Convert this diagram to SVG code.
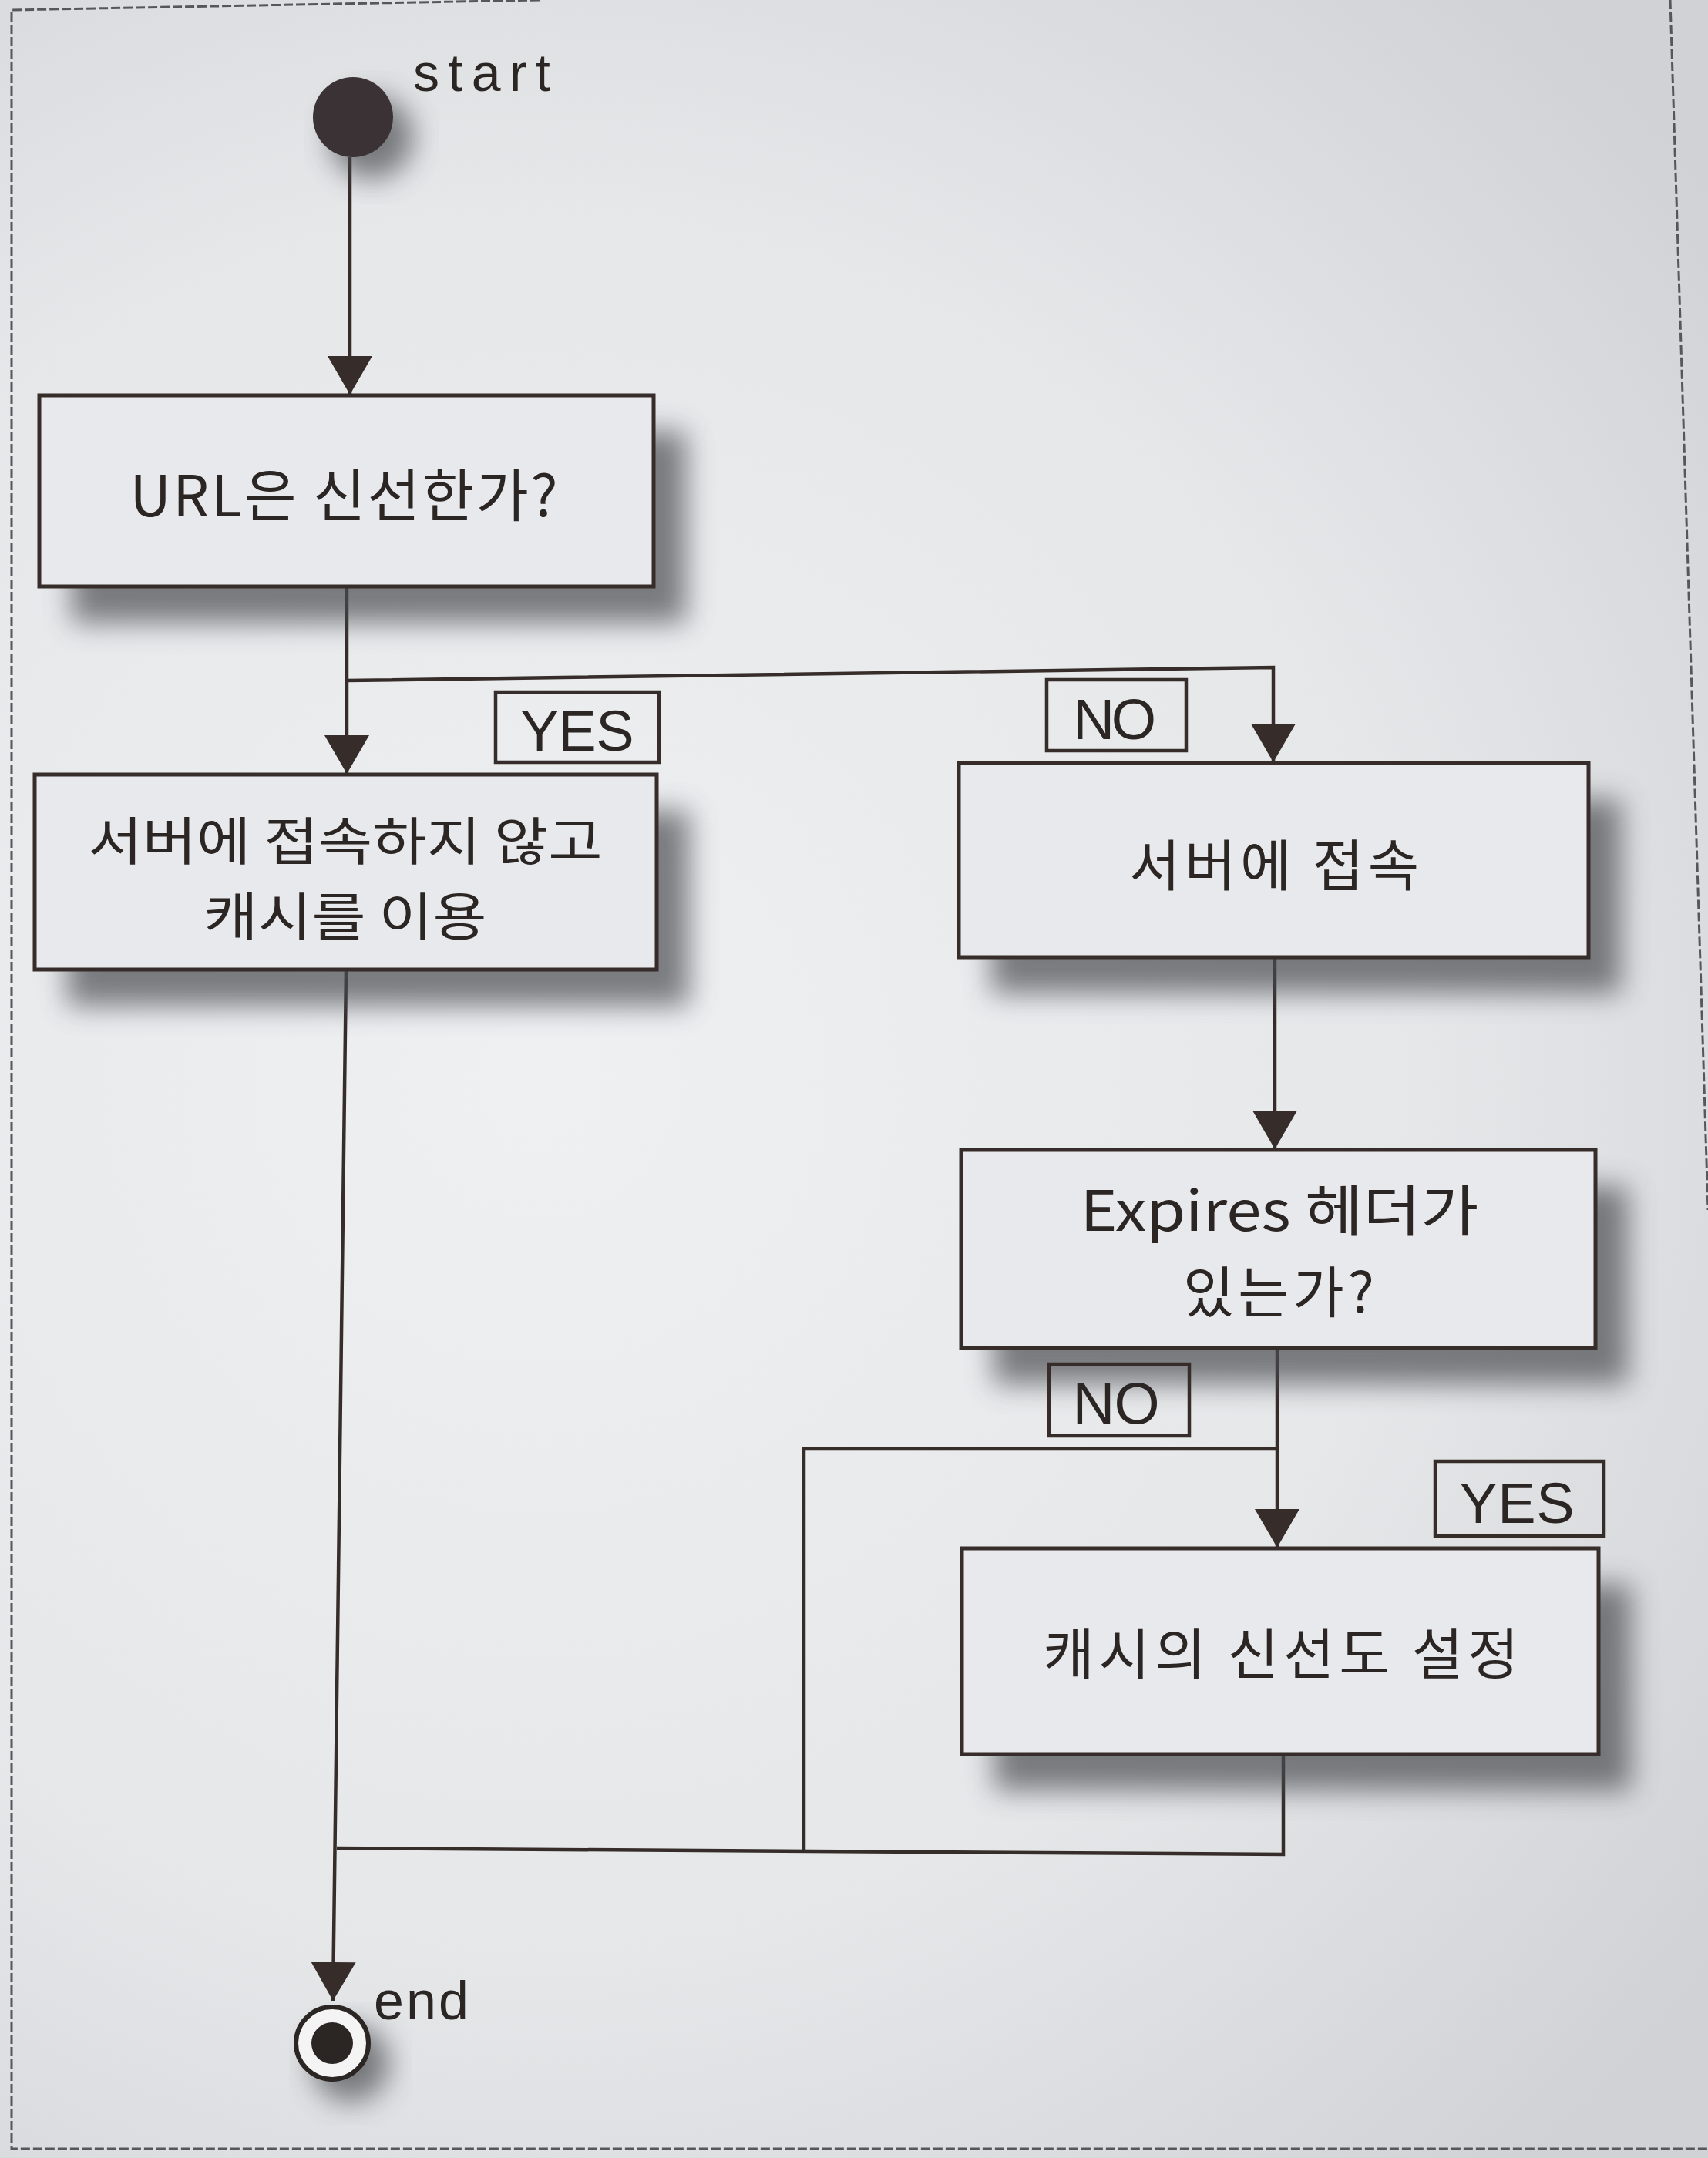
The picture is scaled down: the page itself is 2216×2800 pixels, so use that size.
<svg xmlns="http://www.w3.org/2000/svg" width="2216" height="2800" viewBox="0 0 2216 2800">
<defs>
<radialGradient id="bg" gradientUnits="userSpaceOnUse" cx="700" cy="1400" r="1900">
<stop offset="0" stop-color="#eef0f2"/>
<stop offset="0.6" stop-color="#e5e7e9"/>
<stop offset="1" stop-color="#d0d2d5"/>
</radialGradient>
<filter id="blur" x="-30%" y="-30%" width="160%" height="160%">
<feGaussianBlur stdDeviation="18"/>
</filter>
<marker id="ah" viewBox="0 0 50 58" refX="50" refY="29" markerWidth="50" markerHeight="58" markerUnits="userSpaceOnUse" orient="auto">
<path d="M0,0 L50,29 L0,58 z" fill="#362c2a"/>
</marker>
</defs>
<style>
.box{fill:#e8e9ec;stroke:#362c2a;stroke-width:5}
.shadow{fill:#4a4b50;opacity:0.7;filter:url(#blur)}
.lbl{fill:none;stroke:#362c2a;stroke-width:4.5}
.con{fill:none;stroke:#362c2a;stroke-width:4.5}
.kr{font-family:"Noto Sans CJK KR","Noto Sans",sans-serif;fill:#2b2523;text-anchor:middle}
.lat{font-family:"Liberation Sans",Arial,sans-serif;fill:#2b2523}
.border{fill:none;stroke:#55575b;stroke-width:3;stroke-dasharray:12 4}
</style>

<rect x="0" y="0" width="2216" height="2800" fill="url(#bg)"/>
<path class="border" d="M2167,0 L2216,1570"/>
<path class="border" d="M700,0 L15,13 L15,2788 L2216,2788"/>

<g id="connectors">
<path class="con" d="M454,204 L454,512" marker-end="url(#ah)"/>
<path class="con" d="M450,761 L450,1004" marker-end="url(#ah)"/>
<path class="con" d="M450,883 L1652,866 L1652,989" marker-end="url(#ah)"/>
<path class="con" d="M1654,1242 L1654,1491" marker-end="url(#ah)"/>
<path class="con" d="M1657,1749 L1657,2008" marker-end="url(#ah)"/>
<path class="con" d="M1657,1880 L1043,1880 L1043,2402"/>
<path class="con" d="M1665,2276 L1665,2406 L437,2398"/>
<path class="con" d="M449,1258 L432,2596" marker-end="url(#ah)"/>
</g>

<g id="start">
<circle class="shadow" cx="482" cy="178" r="54"/>
<circle cx="458" cy="152" r="52" fill="#3a3234"/>
<text class="lat" x="536" y="118" font-size="68" textLength="178">start</text>
</g>

<g id="n1">
<rect class="shadow" x="93" y="560" width="797" height="248"/>
<rect class="box" x="51" y="513" width="797" height="248"/>
<text class="kr" x="446" y="670" font-size="74" textLength="555">URL은 신선한가?</text>
</g>

<g id="lbl-yes1">
<rect class="lbl" x="643" y="898" width="212" height="91"/>
<text class="lat" x="749" y="974" font-size="74" text-anchor="middle" textLength="147">YES</text>
</g>

<g id="lbl-no1">
<rect class="lbl" x="1358" y="882" width="181" height="92"/>
<text class="lat" x="1446" y="959" font-size="75" text-anchor="middle" textLength="108">NO</text>
</g>

<g id="n2">
<rect class="shadow" x="87" y="1052" width="807" height="253"/>
<rect class="box" x="45" y="1005" width="807" height="253"/>
<text class="kr" x="448" y="1116" font-size="67" textLength="667" lengthAdjust="spacingAndGlyphs">서버에 접속하지 않고</text>
<text class="kr" x="448" y="1214" font-size="67" textLength="367" lengthAdjust="spacingAndGlyphs">캐시를 이용</text>
</g>

<g id="n3">
<rect class="shadow" x="1286" y="1037" width="817" height="252"/>
<rect class="box" x="1244" y="990" width="817" height="252"/>
<text class="kr" x="1653" y="1149" font-size="72" textLength="376">서버에 접속</text>
</g>

<g id="n4">
<rect class="shadow" x="1289" y="1539" width="823" height="257"/>
<rect class="box" x="1247" y="1492" width="823" height="257"/>
<text class="kr" x="1660" y="1597" font-size="72" textLength="517" lengthAdjust="spacingAndGlyphs">Expires 헤더가</text>
<text class="kr" x="1659" y="1703" font-size="72" textLength="248">있는가?</text>
</g>

<g id="lbl-no2">
<rect class="lbl" x="1361" y="1770" width="182" height="93"/>
<text class="lat" x="1448" y="1847" font-size="76" text-anchor="middle" textLength="113">NO</text>
</g>

<g id="lbl-yes2">
<rect class="lbl" x="1862" y="1896" width="219" height="97"/>
<text class="lat" x="1968" y="1976" font-size="74" text-anchor="middle" textLength="149">YES</text>
</g>

<g id="n5">
<rect class="shadow" x="1290" y="2056" width="826" height="267"/>
<rect class="box" x="1248" y="2009" width="826" height="267"/>
<text class="kr" x="1662" y="2172" font-size="72" textLength="617">캐시의 신선도 설정</text>
</g>

<g id="end">
<circle class="shadow" cx="455" cy="2677" r="50"/>
<circle cx="431" cy="2651" r="47" fill="#f4f4f5" stroke="#2b2523" stroke-width="6"/>
<circle cx="431" cy="2651" r="27" fill="#2b2523"/>
<text class="lat" x="485" y="2620" font-size="70" textLength="123">end</text>
</g>
</svg>
